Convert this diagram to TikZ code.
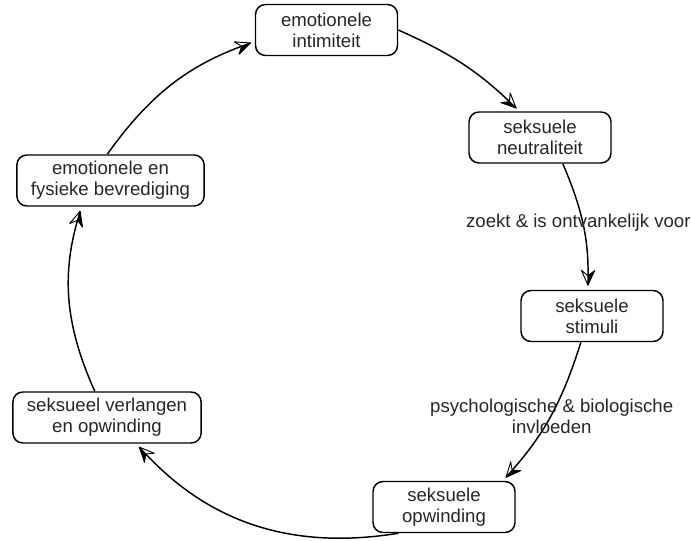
\documentclass[tikz,border=0pt]{standalone}
\usepackage{fontspec}
\setmainfont{Liberation Sans}
\usetikzlibrary{arrows.meta}

% half-filled stealth tips: HSR = black half on the right of travel, HSL = on the left
\pgfdeclarearrow{
  name=HSR,
  setup code={
    \pgfarrowssettipend{0.5pt}
    \pgfarrowssetlineend{-7pt}
    \pgfarrowssetvisualbackend{-11pt}
    \pgfarrowssetbackend{-11pt}
  },
  drawing code={
    \pgfsetlinewidth{0.7pt}\pgfsetroundjoin
    \pgfsetstrokecolor{black}
    \pgfpathmoveto{\pgfqpoint{0pt}{0pt}}
    \pgfpathlineto{\pgfqpoint{-11pt}{5pt}}
    \pgfpathlineto{\pgfqpoint{-7pt}{0pt}}
    \pgfpathclose
    \pgfsetfillcolor{white}
    \pgfusepathqfillstroke
    \pgfpathmoveto{\pgfqpoint{0pt}{0pt}}
    \pgfpathlineto{\pgfqpoint{-11pt}{-5pt}}
    \pgfpathlineto{\pgfqpoint{-7pt}{0pt}}
    \pgfpathclose
    \pgfsetfillcolor{black}
    \pgfusepathqfillstroke
  }
}
\pgfdeclarearrow{
  name=HSL,
  setup code={
    \pgfarrowssettipend{0.5pt}
    \pgfarrowssetlineend{-7pt}
    \pgfarrowssetvisualbackend{-11pt}
    \pgfarrowssetbackend{-11pt}
  },
  drawing code={
    \pgfsetlinewidth{0.7pt}\pgfsetroundjoin
    \pgfsetstrokecolor{black}
    \pgfpathmoveto{\pgfqpoint{0pt}{0pt}}
    \pgfpathlineto{\pgfqpoint{-11pt}{-5pt}}
    \pgfpathlineto{\pgfqpoint{-7pt}{0pt}}
    \pgfpathclose
    \pgfsetfillcolor{white}
    \pgfusepathqfillstroke
    \pgfpathmoveto{\pgfqpoint{0pt}{0pt}}
    \pgfpathlineto{\pgfqpoint{-11pt}{5pt}}
    \pgfpathlineto{\pgfqpoint{-7pt}{0pt}}
    \pgfpathclose
    \pgfsetfillcolor{black}
    \pgfusepathqfillstroke
  }
}

\newcommand\diagfont{\fontsize{13.95pt}{15.75pt}\selectfont}

\begin{document}
\begin{tikzpicture}[x=0.75pt,y=-0.75pt,
  box/.style={draw=black, line width=1.1pt, rounded corners=7.5pt, align=center,
    minimum width=106.5pt, minimum height=38.25pt, inner xsep=10.5pt, inner ysep=3pt,
    font=\diagfont, text=black!85},
  conn/.style={draw=black, line width=1.1pt, shorten >=3pt},
  lbl/.style={align=center, font=\diagfont, text=black!85, inner sep=0pt}]
\useasboundingbox (0,0) rectangle (691,541);

\node[box] (A) at (326.5,30)  {emotionele\\intimiteit};
\node[box] (B) at (540,137.5) {seksuele\\neutraliteit};
\node[box] (C) at (592,316)   {seksuele\\stimuli};
\node[box] (D) at (444,507)   {seksuele\\opwinding};
\node[box] (E) at (107,417.5) {seksueel verlangen\\en opwinding};
\node[box] (F) at (110.5,180.5) {emotionele en\\fysieke bevrediging};

\draw[conn,-{HSR}] (A.east) to[bend left=10] (B.128);
\draw[conn,-{HSL}] (B.-49) to[bend left=12]
  node[lbl,midway,xshift=-3.5pt,yshift=2pt] (L1) {zoekt \& is ontvankelijk voor} (C.99);
\draw[conn,-{HSL}] (C.-113) to[bend left=12]
  node[lbl,midway,xshift=1pt] (L2) {psychologische \& biologische\\invloeden} (D.24);
\draw[conn,-{HSL}] (D.-150) to[bend left=28] (E.-42);
\draw[conn,-{HSR}] (E.115) to[bend left=20] (F.-138);
\draw[conn,-{HSR}] (F.97) to[bend left=17] (A.189);
\end{tikzpicture}
\end{document}
